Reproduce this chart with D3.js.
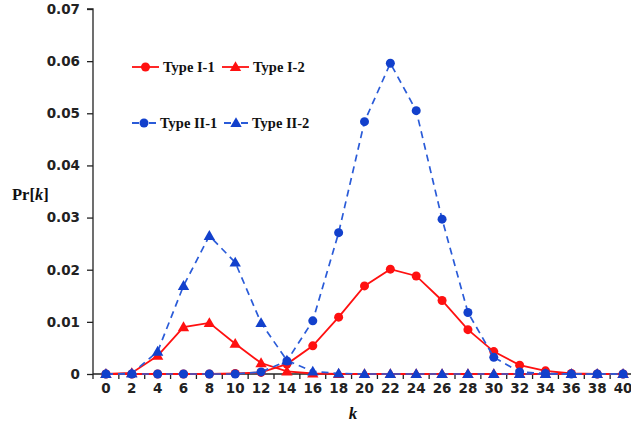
<!DOCTYPE html>
<html>
<head>
<meta charset="utf-8">
<script src="https://cdn.jsdelivr.net/npm/d3@7"></script>
<style>
  html, body { margin: 0; padding: 0; background: #fff; }
  svg { display: block; }
  .tick text { font-family: "DejaVu Sans", Verdana, sans-serif; font-weight: bold; font-size: 13.5px; fill: #222; }
  .legend text { font-family: "Liberation Serif", "Times New Roman", serif; font-weight: bold; font-size: 14.5px; fill: #111; }
  .title { font-family: "Liberation Serif", "Times New Roman", serif; font-weight: bold; fill: #111; }
</style>
</head>
<body>
<svg id="chart" width="631" height="423"></svg>
<script>
const width = 631;
const height = 423;

// k values (category axis)
const kValues = [0, 2, 4, 6, 8, 10, 12, 14, 16, 18, 20, 22, 24, 26, 28, 30, 32, 34, 36, 38, 40];
const yTicks = [0, 0.01, 0.02, 0.03, 0.04, 0.05, 0.06, 0.07];

// values
const typeI1 = [0, 0, 0, 0, 0, 0.0001, 0.0003, 0.0019, 0.0054, 0.0109, 0.0169, 0.0201, 0.0188, 0.0141, 0.0085, 0.0043, 0.0017, 0.0006, 0.0001, 0, 0];
const typeI2 = [0, 0.0002, 0.0035, 0.009, 0.0098, 0.0058, 0.0021, 0.0005, 0.0001, 0, 0, 0, 0, 0, 0, 0, 0, 0, 0, 0, 0];
const typeII1 = [0, 0, 0, 0, 0, 0, 0.0004, 0.0025, 0.0102, 0.0271, 0.0484, 0.0596, 0.0505, 0.0297, 0.0118, 0.0032, 0.0004, 0.0001, 0, 0, 0];
const typeII2 = [0, 0.0001, 0.0043, 0.0169, 0.0265, 0.0214, 0.0098, 0.0026, 0.0005, 0.0001, 0, 0, 0, 0, 0, 0, 0, 0, 0, 0, 0];

const seriesList = [
  { name: "Type I-1", values: typeI1, color: "#ff1010", marker: "circle", dashed: false },
  { name: "Type I-2", values: typeI2, color: "#ff1010", marker: "triangle", dashed: false },
  { name: "Type II-2", values: typeII2, color: "#1240cc", line: "#2a5bd8", marker: "triangle", dashed: true },
  { name: "Type II-1", values: typeII1, color: "#1240cc", line: "#2a5bd8", marker: "circle", dashed: true },
];

const left = 93;
const bottom = 374;

const svg = d3.select("#chart");

const x = d3.scaleBand()
  .domain(kValues.map(String))
  .range([left, 636])
  .paddingInner(0)
  .paddingOuter(0);

const y = d3.scaleLinear().domain([0, 0.07]).range([bottom, 9]);

const cx = (k) => x(String(k)) + x.bandwidth() / 2;

// y axis
const yAxis = svg.append("g")
  .attr("transform", `translate(${left},0)`)
  .call(d3.axisLeft(y).tickValues(yTicks).tickSize(6).tickPadding(7)
    .tickFormat((d) => (d === 0 ? "0" : d3.format(".2f")(d))));
yAxis.select(".domain").attr("stroke", "#222").attr("stroke-width", 1.3).attr("d", `M-6,${y(0.07)}H0V${bottom + 5}`);
yAxis.selectAll(".tick line").attr("stroke", "#222").attr("stroke-width", 1.3);

// x axis labels
const xAxis = svg.append("g")
  .attr("transform", `translate(0,${bottom})`)
  .call(d3.axisBottom(x).tickSize(0).tickPadding(9));
xAxis.select(".domain").remove();

// x axis line and tick marks between categories
svg.append("line")
  .attr("x1", left).attr("x2", width)
  .attr("y1", bottom).attr("y2", bottom)
  .attr("stroke", "#222").attr("stroke-width", 1.3);

svg.append("g")
  .selectAll("line")
  .data(kValues.slice(1))
  .join("line")
  .attr("x1", (d) => x(String(d)))
  .attr("x2", (d) => x(String(d)))
  .attr("y1", bottom)
  .attr("y2", bottom + 5)
  .attr("stroke", "#222")
  .attr("stroke-width", 1.3);

// axis titles
const yTitle = svg.append("text")
  .attr("class", "title")
  .attr("x", 12)
  .attr("y", 200)
  .attr("font-size", 16.5);
yTitle.append("tspan").text("Pr[");
yTitle.append("tspan").attr("font-style", "italic").text("k");
yTitle.append("tspan").text("]");

svg.append("text")
  .attr("class", "title")
  .attr("x", 353)
  .attr("y", 419)
  .attr("text-anchor", "middle")
  .attr("font-style", "italic")
  .attr("font-size", 17)
  .text("k");

function drawMarker(g, marker, color, px, py) {
  if (marker === "circle") {
    g.append("circle").attr("cx", px).attr("cy", py).attr("r", 4.5).attr("fill", color);
  } else {
    g.append("path")
      .attr("d", d3.symbol().type(d3.symbolTriangle).size(56)())
      .attr("transform", `translate(${px},${py + 0.8})`)
      .attr("fill", color);
  }
}

const line = d3.line()
  .x((d, i) => cx(kValues[i]))
  .y((d) => y(d));

for (const s of seriesList) {
  const g = svg.append("g");
  g.append("path")
    .datum(s.values)
    .attr("d", line)
    .attr("fill", "none")
    .attr("stroke", s.line || s.color)
    .attr("stroke-width", s.dashed ? 1.7 : 1.8)
    .attr("stroke-dasharray", s.dashed ? "7,5" : null);
  s.values.forEach((v, i) => drawMarker(g, s.marker, s.color, cx(kValues[i]), y(v)));
}

// legend
const legend = svg.append("g").attr("class", "legend");
const legendItems = [
  { s: seriesList[0], x0: 132, y0: 67 },
  { s: seriesList[1], x0: 222, y0: 67 },
  { s: seriesList[3], x0: 132, y0: 123 },
  { s: seriesList[2], x0: 224, y0: 123 },
];
for (const item of legendItems) {
  const s = item.s;
  const len = s.dashed ? 24 : 27;
  legend.append("line")
    .attr("x1", item.x0).attr("x2", item.x0 + len)
    .attr("y1", item.y0).attr("y2", item.y0)
    .attr("stroke", s.line || s.color)
    .attr("stroke-width", 1.8)
    .attr("stroke-dasharray", s.dashed ? "7,10" : null);
  drawMarker(legend, s.marker, s.color, item.x0 + len / 2, item.y0);
  legend.append("text")
    .attr("x", item.x0 + len + 4)
    .attr("y", item.y0 + 5)
    .text(s.name);
}
</script>
</body>
</html>
